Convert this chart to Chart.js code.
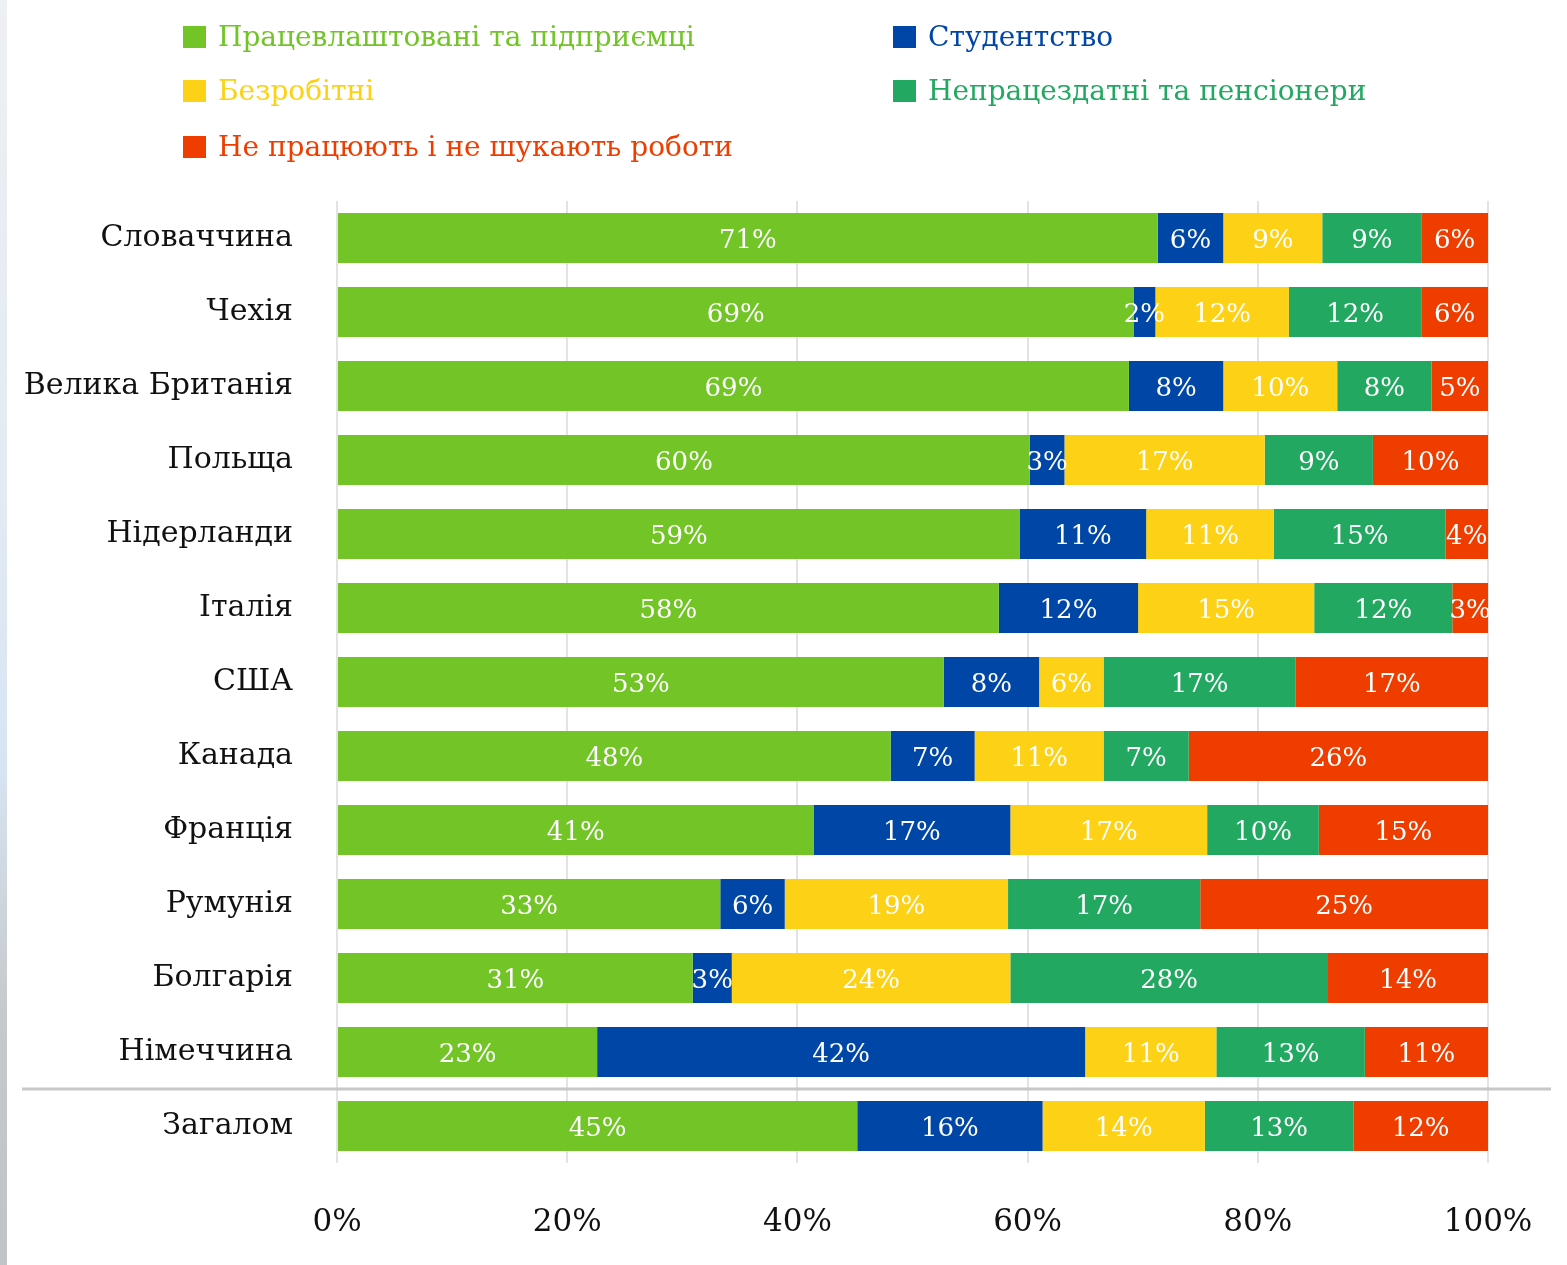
<!DOCTYPE html>
<html>
<head>
<meta charset="utf-8">
<script src="https://cdn.jsdelivr.net/npm/chart.js@4.4.1/dist/chart.umd.min.js"></script>
<style>
  html, body { margin: 0; padding: 0; background: #fff; }
  #wrap { position: relative; width: 1567px; height: 1265px; overflow: hidden; }
  #strip { position: absolute; left: 0; top: 0; width: 7px; height: 1265px;
    background: linear-gradient(to bottom, #eef0f3 0%, #e2eaf3 40%, #d7e5f3 60%, #c6c9cc 80%, #c0c4c6 100%); }
  #c { position: absolute; left: 0; top: 0; }
  .lg { position: absolute; font-family: "DejaVu Serif", serif; font-size: 28px; line-height: 30px; white-space: nowrap; }
  .lg span.sq { position: absolute; left: 0; top: 4px; width: 23px; height: 22px; }
  .lg span.tx { position: absolute; left: 35px; top: 0; }
</style>
</head>
<body>
<div id="wrap">
  <div id="strip"></div>
  <canvas id="c" width="1567" height="1265"></canvas>
</div>
<script>
const categories = ["Словаччина","Чехія","Велика Британія","Польща","Нідерланди","Італія","США","Канада","Франція","Румунія","Болгарія","Німеччина","Загалом"];
const seriesNames = ["Працевлаштовані та підприємці","Студентство","Безробітні","Непрацездатні та пенсіонери","Не працюють і не шукають роботи"];
const seriesColors = ["#72c427","#0046a6","#fcd116","#23a862","#ef3d00"];
const employed   = [71.3, 69.2, 68.8, 60.2, 59.3, 57.5, 52.7, 48.1, 41.4, 33.3, 30.9, 22.6, 45.2];
const students   = [5.7, 1.9, 8.2, 3.0, 11.0, 12.1, 8.3, 7.3, 17.1, 5.6, 3.4, 42.4, 16.1];
const unemployed = [8.6, 11.6, 9.9, 17.4, 11.1, 15.3, 5.6, 11.2, 17.1, 19.4, 24.2, 11.4, 14.1];
const pensioners = [8.6, 11.5, 8.2, 9.4, 14.9, 12.0, 16.7, 7.4, 9.7, 16.7, 27.6, 12.9, 12.9];
const notWorking = [5.8, 5.8, 4.9, 10.0, 3.7, 3.1, 16.7, 26.0, 14.7, 25.0, 13.9, 10.7, 11.7];
const xTicks = [0, 20, 40, 60, 80, 100];
const seriesValues = [employed, students, unemployed, pensioners, notWorking];

// HTML legend (two columns, row-major order)
const legendPos = [[183, 22], [893, 22], [183, 76], [893, 76], [183, 132]];
const wrap = document.getElementById('wrap');
seriesNames.forEach((name, i) => {
  const d = document.createElement('div');
  d.className = 'lg';
  d.style.left = legendPos[i][0] + 'px';
  d.style.top = legendPos[i][1] + 'px';
  d.style.color = seriesColors[i];
  d.innerHTML = '<span class="sq" style="background:' + seriesColors[i] + '"></span><span class="tx"></span>';
  d.querySelector('.tx').textContent = name;
  wrap.appendChild(d);
});

const FONT = '"DejaVu Serif", serif';

const labelPlugin = {
  id: 'segLabels',
  afterDatasetsDraw(chart) {
    const ctx = chart.ctx;
    ctx.save();
    ctx.fillStyle = '#ffffff';
    ctx.font = '26px ' + FONT;
    ctx.textAlign = 'center';
    ctx.textBaseline = 'middle';
    chart.data.datasets.forEach((ds, di) => {
      const meta = chart.getDatasetMeta(di);
      meta.data.forEach((el, i) => {
        const v = ds.data[i];
        const cx = (el.x + el.base) / 2;
        ctx.fillText(Math.round(v) + '%', cx, el.y + 3);
      });
    });
    ctx.restore();
  }
};

const separatorPlugin = {
  id: 'separator',
  afterDatasetsDraw(chart) {
    const y = chart.scales.y.getPixelForValue(categories.length - 1.5);
    const ctx = chart.ctx;
    ctx.save();
    ctx.strokeStyle = '#c8c8c8';
    ctx.lineWidth = 3;
    ctx.beginPath();
    ctx.moveTo(22, y);
    ctx.lineTo(1551, y);
    ctx.stroke();
    ctx.restore();
  }
};

new Chart(document.getElementById('c'), {
  type: 'bar',
  data: {
    labels: categories,
    datasets: seriesNames.map((n, i) => ({
      label: n,
      data: seriesValues[i],
      backgroundColor: seriesColors[i],
      borderWidth: 0,
      barPercentage: 1,
      categoryPercentage: 0.676
    }))
  },
  options: {
    indexAxis: 'y',
    responsive: false,
    animation: false,
    layout: { padding: { top: 201, right: 79, bottom: 0, left: 0 } },
    plugins: { legend: { display: false }, tooltip: { enabled: false } },
    scales: {
      x: {
        stacked: true,
        min: 0, max: 100,
        afterBuildTicks(scale) { scale.ticks = xTicks.map(v => ({ value: v })); },
        afterFit(scale) { scale.height = 102; scale.paddingLeft = 0; scale.paddingRight = 0; },
        grid: { color: '#e3e3e3', lineWidth: 2, drawTicks: false },
        border: { display: false },
        ticks: {
          padding: 41,
          color: '#111',
          font: { family: FONT, size: 31 },
          callback: v => v + '%'
        }
      },
      y: {
        stacked: true,
        afterFit(scale) { scale.width = 337; scale.paddingTop = 0; scale.paddingBottom = 0; },
        grid: { display: false, drawTicks: false },
        border: { display: false },
        ticks: {
          padding: 44,
          color: '#111',
          font: { family: FONT, size: 30 }
        }
      }
    }
  },
  plugins: [labelPlugin, separatorPlugin]
});
</script>
</body>
</html>
